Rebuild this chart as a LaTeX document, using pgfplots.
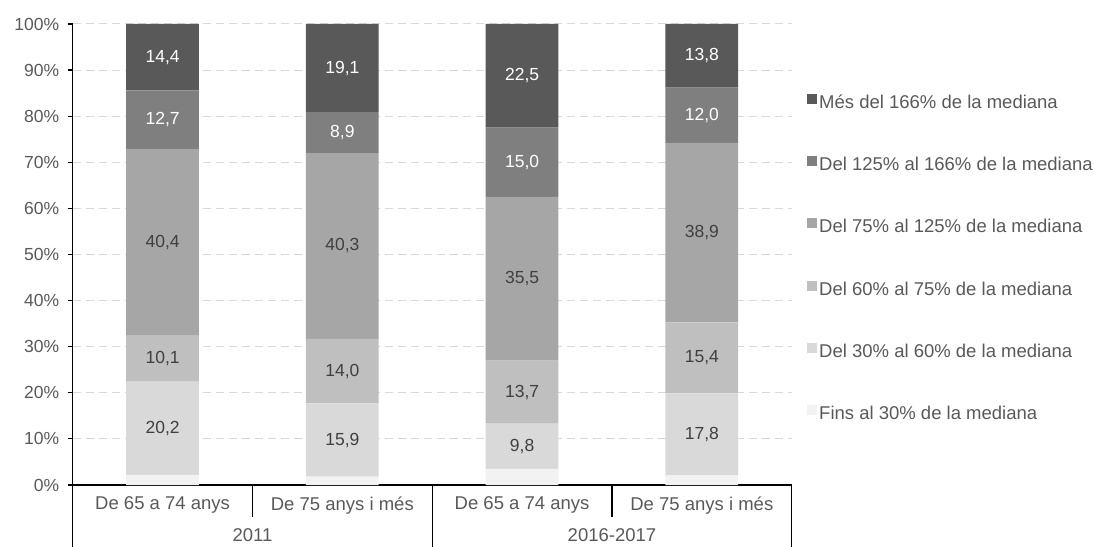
\documentclass[border=0pt]{standalone}
\usepackage{pgfplots}
\pgfplotsset{compat=1.18}
\usepackage{fontspec}
\setmainfont{Liberation Sans}
\definecolor{cA}{HTML}{F2F2F2}
\definecolor{cB}{HTML}{D9D9D9}
\definecolor{cC}{HTML}{BFBFBF}
\definecolor{cD}{HTML}{A6A6A6}
\definecolor{cE}{HTML}{7F7F7F}
\definecolor{cF}{HTML}{595959}
\definecolor{txtgray}{HTML}{595959}
\definecolor{lbl}{HTML}{404040}
\definecolor{gridc}{HTML}{D9D9D9}
\newcommand{\cf}{\fontsize{17.5bp}{20bp}\selectfont}
\newcommand{\lf}{\fontsize{18.5bp}{21bp}\selectfont}
\begin{document}
\begin{tikzpicture}
\useasboundingbox (0,0) rectangle (1094bp,547bp);
\begin{axis}[
  at={(72.7bp,62bp)}, anchor=south west,
  scale only axis, width=719bp, height=461bp,
  ybar stacked, bar width=0.405,
  xmin=-0.5, xmax=3.5, ymin=0, ymax=100,
  axis x line*=bottom, axis y line*=left,
  axis line style={black, line width=1.2bp, -},
  xtick={0,1,2,3},
  xticklabels={De 65 a 74 anys, De 75 anys i més, De 65 a 74 anys, De 75 anys i més},
  x tick label style={font=\lf, text=txtgray, yshift=-3bp},
  xtick style={draw=none},
  ytick={0,10,...,100},
  yticklabels={0\%,10\%,20\%,30\%,40\%,50\%,60\%,70\%,80\%,90\%,100\%},
  y tick label style={font=\cf, text=txtgray, xshift=-5bp},
  ytick style={black, line width=1.2bp},
  tick align=outside, major tick length=5bp,
  ymajorgrids, major grid style={gridc, line width=1bp, dash pattern=on 8bp off 5bp},
  clip=false,
  visualization depends on=rawy \as \rawy,
  every node near coord/.append style={anchor=center, font=\cf, text=lbl},
  legend image code/.code={\fill[#1] (0bp,0bp) rectangle (10bp,10bp);},
  reverse legend,
  legend cell align=left,
  legend style={at={(1.0213,0.8488)}, anchor=north west, draw=none, fill=none,
     font=\lf, text=txtgray, row sep=43.7bp, column sep=2bp, inner sep=0pt,
     nodes={inner sep=0pt, text height=13bp, text depth=4bp}},
]
\addplot[fill=cA, draw=none] coordinates {(0,2.2) (1,1.8) (2,3.5) (3,2.1)};
\addlegendentry{Fins al 30\% de la mediana}
\addplot[fill=cB, draw=none, nodes near coords={\pgfmathprintnumber[assume math mode=true,use comma,fixed,fixed zerofill,precision=1]{\rawy}}]
  coordinates {(0,20.2) (1,15.9) (2,9.8) (3,17.8)};
\addlegendentry{Del 30\% al 60\% de la mediana}
\addplot[fill=cC, draw=none, nodes near coords={\pgfmathprintnumber[assume math mode=true,use comma,fixed,fixed zerofill,precision=1]{\rawy}}]
  coordinates {(0,10.1) (1,14.0) (2,13.7) (3,15.4)};
\addlegendentry{Del 60\% al 75\% de la mediana}
\addplot[fill=cD, draw=none, nodes near coords={\pgfmathprintnumber[assume math mode=true,use comma,fixed,fixed zerofill,precision=1]{\rawy}}]
  coordinates {(0,40.4) (1,40.3) (2,35.5) (3,38.9)};
\addlegendentry{Del 75\% al 125\% de la mediana}
\addplot[fill=cE, draw=none, nodes near coords={\pgfmathprintnumber[assume math mode=true,use comma,fixed,fixed zerofill,precision=1]{\rawy}},
  every node near coord/.append style={text=white}]
  coordinates {(0,12.7) (1,8.9) (2,15.0) (3,12.0)};
\addlegendentry{Del 125\% al 166\% de la mediana}
\addplot[fill=cF, draw=none, nodes near coords={\pgfmathprintnumber[assume math mode=true,use comma,fixed,fixed zerofill,precision=1]{\rawy}},
  every node near coord/.append style={text=white}]
  coordinates {(0,14.4) (1,19.1) (2,22.5) (3,13.8)};
\addlegendentry{Més del 166\% de la mediana}
% category separators
\draw[black, line width=1.2bp] (axis cs:-0.5,0) -- ++(0pt,-62bp);
\draw[black, line width=1.2bp] (axis cs:1.5,0) -- ++(0pt,-62bp);
\draw[black, line width=1.2bp] (axis cs:3.5,0) -- ++(0pt,-62bp);
\draw[black, line width=1.2bp] (axis cs:0.5,0) -- ++(0pt,-32bp);
\draw[black, line width=1.2bp] (axis cs:2.5,0) -- ++(0pt,-32bp);
\node[font=\lf, text=txtgray, anchor=base] at ([yshift=-56bp]axis cs:0.5,0) {2011};
\node[font=\lf, text=txtgray, anchor=base] at ([yshift=-56bp]axis cs:2.5,0) {2016-2017};
\end{axis}
\end{tikzpicture}
\end{document}
